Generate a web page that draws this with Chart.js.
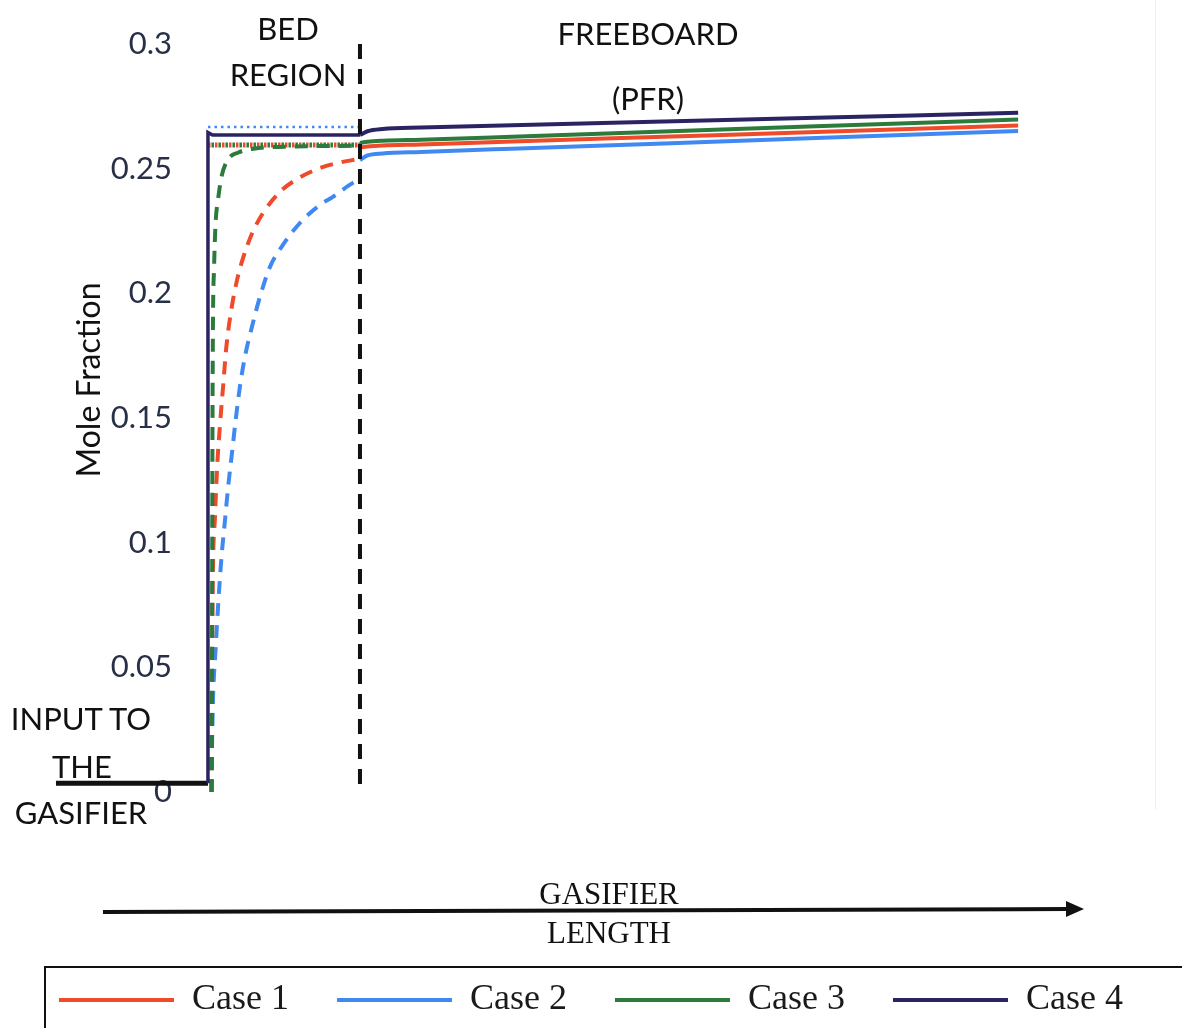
<!DOCTYPE html>
<html>
<head>
<meta charset="utf-8">
<script src="https://cdn.jsdelivr.net/npm/chart.js@4.4.1/dist/chart.umd.min.js"></script>
<style>
  html, body { margin: 0; padding: 0; background: #fff; }
  #wrap { position: relative; width: 1182px; height: 1028px; overflow: hidden; }
  #chart { position: absolute; left: 0; top: 0; }
  .note { position: absolute; transform: translate(-50%, -50%); white-space: nowrap;
          font-family: Lato, "Open Sans", sans-serif; font-size: 31px; line-height: 1; color: #111; }
  .serif { font-family: "Liberation Serif", "DejaVu Serif", serif; font-size: 31px; color: #111; }
  #ytitle { transform: translate(-50%, -50%) rotate(-90deg); font-size: 32px; }
  #edge { position: absolute; left: 1155px; top: 0; width: 1px; height: 810px; background: #eceef6; }
  svg { position: absolute; left: 0; top: 0; }
</style>
</head>
<body>
<div id="wrap">
  <canvas id="chart" width="1182" height="1028"></canvas>
  <div id="edge"></div>
  <svg width="1182" height="1028">
    <line x1="103" y1="912" x2="1068" y2="909" stroke="#111" stroke-width="4"/>
    <polygon points="1084,909 1066,901 1066,917" fill="#111"/>
  </svg>
  <div class="note" style="left:288px; top:28px;">BED</div>
  <div class="note" style="left:288px; top:74px;">REGION</div>
  <div class="note" style="left:648px; top:33px;">FREEBOARD</div>
  <div class="note" style="left:648px; top:98px;">(PFR)</div>
  <div class="note" style="left:81px; top:718px;">INPUT TO</div>
  <div class="note" style="left:82px; top:766px;">THE</div>
  <div class="note" style="left:81px; top:812px;">GASIFIER</div>
  <div class="note" id="ytitle" style="left:88px; top:380px;">Mole Fraction</div>
  <div class="note serif" style="left:609px; top:893px;">GASIFIER</div>
  <div class="note serif" style="left:609px; top:932px;">LENGTH</div>
</div>
<script>
// Position along the gasifier, in bed heights (0 = distributor, 1 = top of the bed)
const inputX = [-1.0, 0];
const inputY = [0.0035, 0.0035];

// Freeboard (plug-flow) profiles
const freeboardX = [1.0, 1.05, 1.15, 1.4, 2, 3, 4, 5.33];
const case1Freeboard = [0.2585, 0.2589, 0.2593, 0.2597, 0.2609, 0.2628, 0.2647, 0.2673];
const case2Freeboard = [0.2535, 0.2553, 0.2561, 0.2567, 0.2580, 0.2601, 0.2623, 0.2651];
const case3Freeboard = [0.2603, 0.2608, 0.2612, 0.2616, 0.2628, 0.2649, 0.2670, 0.2697];
const case4Freeboard = [0.2635, 0.2650, 0.2659, 0.2665, 0.2674, 0.2689, 0.2704, 0.2724];

// Bed region, case 4 (well mixed, solid)
const case4BedX = [0, 0, 0.03, 1.0];
const case4BedY = [0.0035, 0.2645, 0.2635, 0.2635];

// Bed region, dashed profiles
const case1BedX = [0.02, 0.025, 0.033, 0.046, 0.06, 0.08, 0.1, 0.12, 0.15, 0.19, 0.23, 0.29, 0.36, 0.47, 0.6, 0.74, 0.87, 1.0];
const case1BedY = [0, 0.04, 0.09, 0.11, 0.13, 0.148, 0.163, 0.178, 0.192, 0.205, 0.214, 0.224, 0.232, 0.2405, 0.2463, 0.2503, 0.2525, 0.254];
const case2BedX = [0.02, 0.026, 0.033, 0.05, 0.066, 0.09, 0.112, 0.132, 0.158, 0.18, 0.21, 0.243, 0.289, 0.342, 0.408, 0.493, 0.605, 0.737, 0.822, 0.954, 1.0];
const case2BedY = [0, 0.017, 0.037, 0.057, 0.074, 0.095, 0.109, 0.122, 0.136, 0.148, 0.1625, 0.1745, 0.1865, 0.1986, 0.2106, 0.2194, 0.2282, 0.2355, 0.2387, 0.2443, 0.2455];
const case3BedX = [0.026, 0.028, 0.032, 0.04, 0.05, 0.066, 0.09, 0.13, 0.2, 0.3, 0.5, 1.0];
const case3BedY = [0, 0.1, 0.18, 0.21, 0.228, 0.2375, 0.247, 0.2535, 0.2565, 0.258, 0.2588, 0.2592];

// Bed region, dotted levels
const dottedX = [0, 1.0];
const case1Dotted = [0.2595, 0.2595];
const case2Dotted = [0.2667, 0.2667];
const case3Dotted = [0.2595, 0.2595];

// Bed / freeboard boundary (drawn top-down so the dashes start at the top)
const dividerX = [1.0, 1.0];
const dividerY = [0.3, 0];

// Axis ticks
const yTicks = [0, 0.05, 0.1, 0.15, 0.2, 0.25, 0.3];
const caseNames = ['Case 1', 'Case 2', 'Case 3', 'Case 4'];

const colors = { c1: '#ef4b2a', c2: '#4189f2', c3: '#2c7b3c', c4: '#2b2463', black: '#111111' };

const pts = (xs, ys) => xs.map((x, i) => ({ x, y: ys[i] }));

function line(label, xs, ys, color, extra) {
  return Object.assign({
    label, data: pts(xs, ys), borderColor: color, backgroundColor: color,
    borderWidth: 4, pointRadius: 0, fill: false, clip: false, tension: 0,
    showInLegend: false
  }, extra || {});
}

const smooth = { cubicInterpolationMode: 'monotone' };

const datasets = [
  line('boundary', dividerX, dividerY, colors.black, { order: 0, borderDash: [15, 10], borderWidth: 4 }),
  line(caseNames[0], freeboardX, case1Freeboard, colors.c1, Object.assign({ order: 1, showInLegend: true }, smooth)),
  line(caseNames[1], freeboardX, case2Freeboard, colors.c2, Object.assign({ order: 2, showInLegend: true }, smooth)),
  line(caseNames[2], freeboardX, case3Freeboard, colors.c3, Object.assign({ order: 3, showInLegend: true }, smooth)),
  line(caseNames[3], freeboardX, case4Freeboard, colors.c4, Object.assign({ order: 4, showInLegend: true }, smooth)),
  line('Case 4 bed', case4BedX, case4BedY, colors.c4, { order: 5, borderWidth: 3.5 }),
  line('Case 3 bed', case3BedX, case3BedY, colors.c3, Object.assign({ order: 6, borderDash: [13, 9] }, smooth)),
  line('Case 1 bed', case1BedX, case1BedY, colors.c1, Object.assign({ order: 7, borderDash: [13, 9] }, smooth)),
  line('Case 2 bed', case2BedX, case2BedY, colors.c2, Object.assign({ order: 8, borderDash: [13, 9] }, smooth)),
  line('Case 2 dotted', dottedX, case2Dotted, colors.c2, { order: 9, borderDash: [2.5, 4], borderWidth: 2.5 }),
  line('Case 3 dotted', dottedX, case3Dotted, colors.c3, { order: 10, borderDash: [2.5, 4.5], borderDashOffset: 3.5, borderWidth: 5 }),
  line('Case 1 dotted', dottedX, case1Dotted, colors.c1, { order: 11, borderDash: [2.5, 4.5], borderWidth: 5 }),
  line('input', inputX, inputY, colors.black, { order: 12, borderWidth: 5 })
];

const legendFrame = {
  id: 'legendFrame',
  afterDraw(chart) {
    const lg = chart.legend;
    const ctx = chart.ctx;
    ctx.save();
    ctx.strokeStyle = '#111';
    ctx.lineWidth = 2;
    ctx.strokeRect(lg.left + 45, lg.top + 33, lg.width + 20, lg.height);
    ctx.restore();
  }
};

new Chart(document.getElementById('chart'), {
  type: 'line',
  data: { datasets },
  plugins: [legendFrame],
  options: {
    responsive: false,
    animation: false,
    devicePixelRatio: 1,
    layout: { padding: { top: 44, left: 0, right: 0, bottom: 0 } },
    scales: {
      x: {
        type: 'linear', min: -0.184, max: 6.408,
        grid: { display: false, drawTicks: false }, border: { display: false },
        ticks: { display: false },
        afterFit(scale) { scale.height = 142; }
      },
      y: {
        type: 'linear', min: 0, max: 0.3,
        grid: { display: false, drawTicks: false }, border: { display: false },
        afterBuildTicks(scale) { scale.ticks = yTicks.map(v => ({ value: v })); },
        ticks: {
          padding: 8,
          color: '#283048',
          font: { family: 'Lato, "Open Sans", sans-serif', size: 31 },
          callback: v => String(+Number(v).toFixed(2))
        },
        afterFit(scale) { scale.width = 180; }
      }
    },
    plugins: {
      tooltip: { enabled: false },
      legend: {
        position: 'bottom',
        labels: {
          boxWidth: 115, boxHeight: 4, padding: 48,
          color: '#1a1a1a',
          font: { family: '"Liberation Serif", "Times New Roman", serif', size: 36 },
          generateLabels(chart) {
            const base = Chart.defaults.plugins.legend.labels.generateLabels(chart);
            return base
              .filter(it => chart.data.datasets[it.datasetIndex].showInLegend)
              .map(it => Object.assign(it, { fillStyle: it.strokeStyle, lineWidth: 0, lineDash: [] }));
          }
        }
      }
    }
  }
});
</script>
</body>
</html>
